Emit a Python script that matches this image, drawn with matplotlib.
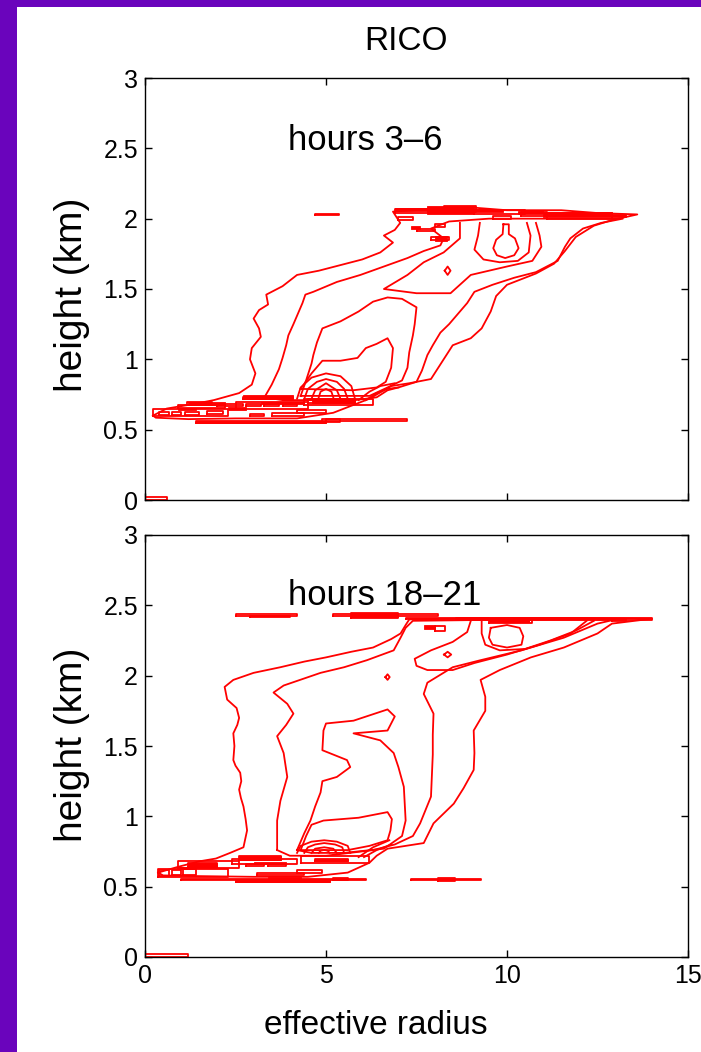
import matplotlib
matplotlib.use('Agg')
from matplotlib.pyplot import figure, rcParams
from matplotlib.patches import Rectangle

rcParams['font.family'] = ['Liberation Sans', 'DejaVu Sans']

# tick values / labels
x_ticks = [0, 5, 10, 15]
x_tick_labels = ['0', '5', '10', '15']
y_ticks = [0, 0.5, 1, 1.5, 2, 2.5, 3]
y_tick_labels = ['0', '0.5', '1', '1.5', '2', '2.5', '3']

panel_titles = ['hours 3\u20136', 'hours 18\u201321']

# ---------------- hours 3-6 : contour lines (effective radius, height km)
top_outer = [(0.22, 0.60), (0.6, 0.65), (1.3, 0.68), (1.9, 0.71), (2.6, 0.76), (2.95, 0.82), (3.05, 0.90),
             (2.9, 1.00), (2.95, 1.08), (3.2, 1.16), (3.15, 1.22), (3.0, 1.29), (3.15, 1.35), (3.4, 1.39),
             (3.35, 1.46), (3.8, 1.52), (4.2, 1.60), (4.8, 1.63), (5.4, 1.67), (6.0, 1.71), (6.5, 1.76),
             (6.85, 1.83), (6.6, 1.88), (6.9, 1.92), (7.05, 1.97), (6.85, 2.05), (8.0, 2.07), (9.0, 2.08),
             (10.0, 2.06), (11.5, 2.06), (12.5, 2.04), (13.6, 2.03), (12.9, 1.99), (12.4, 1.95), (11.9, 1.87),
             (11.6, 1.77), (11.3, 1.68), (10.8, 1.61), (10.0, 1.53), (9.7, 1.45), (9.55, 1.34), (9.3, 1.22),
             (9.0, 1.15), (8.5, 1.10), (8.2, 0.98), (7.9, 0.86), (7.3, 0.83), (6.8, 0.81), (6.2, 0.72),
             (5.2, 0.62), (4.2, 0.58), (2.5, 0.58), (1.2, 0.575), (0.3, 0.585)]
top_b = [(3.3, 0.73), (3.5, 0.82), (3.7, 0.93), (3.8, 1.01), (3.9, 1.10), (3.96, 1.17), (4.1, 1.25), (4.2, 1.31),
         (4.35, 1.40), (4.43, 1.46), (4.65, 1.48), (5.3, 1.55), (5.95, 1.60), (6.6, 1.66), (7.25, 1.72),
         (7.7, 1.77), (8.16, 1.81), (8.25, 1.86), (7.9, 1.93), (8.4, 1.98), (9.5, 2.0), (10.5, 2.0), (12.0, 2.0),
         (13.2, 2.0), (12.6, 1.97), (12.1, 1.93), (11.75, 1.86), (11.6, 1.80), (11.4, 1.70), (10.8, 1.62),
         (10.2, 1.58), (9.6, 1.53), (9.1, 1.48), (8.9, 1.40), (8.7, 1.34), (8.4, 1.25), (8.16, 1.19),
         (7.95, 1.10), (7.8, 1.03), (7.65, 0.92), (7.5, 0.84), (7.0, 0.80), (6.7, 0.78), (6.4, 0.73),
         (5.8, 0.71), (4.8, 0.71), (3.8, 0.71)]
top_c = [(4.3, 0.74), (4.45, 0.85), (4.6, 0.97), (4.65, 1.03), (4.75, 1.12), (4.9, 1.22), (5.4, 1.27), (5.9, 1.34),
         (6.3, 1.41), (6.7, 1.44), (7.1, 1.43), (7.5, 1.37), (7.45, 1.25), (7.4, 1.17), (7.3, 1.05), (7.25, 0.94),
         (7.1, 0.85), (6.7, 0.80), (6.2, 0.74), (5.5, 0.74)]
top_d = [(4.3, 0.79), (4.6, 0.90), (4.9, 0.99), (5.4, 0.99), (5.87, 1.01), (6.1, 1.08), (6.4, 1.11), (6.7, 1.15),
         (6.85, 1.08), (6.8, 0.94), (6.65, 0.84), (6.4, 0.80), (5.75, 0.78)]
top_e = [(8.7, 1.97), (8.7, 1.86), (8.25, 1.76), (7.7, 1.69), (7.25, 1.60), (6.6, 1.50), (7.5, 1.47), (8.44, 1.47),
         (9.0, 1.60), (10.0, 1.66), (10.7, 1.70), (10.95, 1.80), (10.9, 1.88), (10.8, 1.97)]
top_f = [(9.25, 1.97), (9.2, 1.88), (9.1, 1.78), (9.35, 1.71), (9.8, 1.69), (10.3, 1.70), (10.6, 1.76),
         (10.65, 1.88), (10.55, 1.97)]
top_g = [(9.9, 1.96), (9.88, 1.89), (9.7, 1.85), (9.62, 1.79), (9.72, 1.74), (9.95, 1.72), (10.2, 1.74),
         (10.32, 1.79), (10.22, 1.86), (10.05, 1.89), (10.05, 1.96), (9.9, 1.96)]
top_dot = [(8.28, 1.63), (8.36, 1.66), (8.44, 1.63), (8.36, 1.60), (8.28, 1.63)]
top_arcs = [
    [(4.2, 0.72), (4.3, 0.80), (4.6, 0.87), (5.0, 0.90), (5.4, 0.88), (5.7, 0.81), (5.8, 0.72)],
    [(4.4, 0.72), (4.5, 0.79), (4.75, 0.84), (5.0, 0.86), (5.3, 0.84), (5.5, 0.79), (5.6, 0.72)],
    [(4.6, 0.72), (4.7, 0.78), (5.0, 0.83), (5.3, 0.78), (5.4, 0.72)],
    [(4.8, 0.73), (4.85, 0.77), (5.0, 0.79), (5.15, 0.77), (5.2, 0.73)],
]
top_fan = [
    [(5.9, 0.71), (6.2, 0.77), (6.5, 0.81), (6.9, 0.83)],
    [(6.1, 0.71), (6.4, 0.76), (6.7, 0.79), (7.0, 0.80)],
]
top_closed = [top_outer, top_b, top_c, top_d]
top_open = [top_e, top_f, top_g, top_dot] + top_arcs + top_fan

# thin flat loops (r0, r1, h0, h1) around cloud top and cloud base
top_flat = [
    (6.9, 8.3, 2.04, 2.07), (8.25, 9.15, 2.05, 2.09), (7.0, 7.4, 1.99, 2.01), (7.5, 8.0, 1.91, 1.93),
    (7.9, 8.4, 1.85, 1.87), (8.0, 8.3, 1.94, 1.96), (9.1, 10.5, 2.035, 2.065), (9.6, 10.1, 2.00, 2.02),
    (10.4, 11.1, 2.02, 2.05), (11.1, 12.9, 2.00, 2.04), (11.5, 12.3, 2.02, 2.035), (4.7, 5.35, 2.026, 2.034),
    (0.23, 2.3, 0.595, 0.645), (0.4, 0.65, 0.605, 0.625), (0.75, 1.0, 0.605, 0.625), (1.1, 1.5, 0.605, 0.625),
    (1.7, 2.15, 0.61, 0.63), (0.9, 2.2, 0.655, 0.675), (1.15, 1.85, 0.675, 0.695), (2.0, 2.7, 0.665, 0.685),
    (2.7, 4.1, 0.715, 0.735), (2.8, 3.2, 0.665, 0.68), (3.3, 3.7, 0.665, 0.68), (3.8, 4.2, 0.665, 0.68),
    (2.5, 4.5, 0.65, 0.70), (2.9, 3.3, 0.595, 0.61), (3.5, 4.4, 0.60, 0.615), (4.5, 5.8, 0.69, 0.715),
    (4.4, 6.3, 0.675, 0.72), (1.4, 5.0, 0.55, 0.565), (4.9, 5.4, 0.555, 0.575), (5.0, 7.25, 0.565, 0.575),
    (4.2, 5.0, 0.62, 0.64), (0.0, 0.62, 0.0, 0.02),
]
# packed cells where the loops merge into solid red
top_solid = [
    (6.9, 7.9, 2.055, 2.075), (7.8, 9.1, 2.035, 2.09), (9.1, 9.9, 2.05, 2.072), (10.3, 11.0, 2.03, 2.058),
    (11.0, 12.9, 2.012, 2.045), (12.9, 13.3, 2.015, 2.03), (7.35, 7.6, 1.93, 1.95), (8.0, 8.35, 1.84, 1.88),
    (1.2, 2.2, 0.675, 0.70), (2.7, 4.1, 0.72, 0.745), (4.6, 5.8, 0.69, 0.72), (1.4, 5.0, 0.55, 0.565),
    (2.3, 2.8, 0.64, 0.66), (3.2, 4.4, 0.685, 0.70), (0.9, 1.4, 0.64, 0.655),
]

# ---------------- hours 18-21
bot_outer = [(0.36, 0.60), (0.9, 0.64), (1.5, 0.68), (1.96, 0.70), (2.35, 0.74), (2.72, 0.78), (2.82, 0.90),
             (2.78, 0.98), (2.72, 1.07), (2.65, 1.13), (2.6, 1.19), (2.66, 1.25), (2.63, 1.31), (2.5, 1.36),
             (2.44, 1.40), (2.47, 1.50), (2.44, 1.59), (2.55, 1.65), (2.6, 1.70), (2.53, 1.77), (2.27, 1.83),
             (2.2, 1.92), (2.44, 1.97), (3.0, 2.02), (3.74, 2.06), (4.4, 2.10), (5.0, 2.13), (5.7, 2.17),
             (6.3, 2.20), (6.8, 2.26), (7.06, 2.30), (7.2, 2.36), (7.3, 2.40), (8.5, 2.405), (10.0, 2.41),
             (12.0, 2.41), (14.0, 2.405), (12.9, 2.37), (12.5, 2.30), (11.57, 2.20), (10.66, 2.13), (9.8, 2.04),
             (9.27, 1.97), (9.4, 1.85), (9.4, 1.75), (9.08, 1.61), (9.1, 1.45), (9.08, 1.33), (8.8, 1.20),
             (8.53, 1.09), (7.97, 0.95), (7.7, 0.81), (7.2, 0.79), (6.7, 0.77), (6.4, 0.72), (6.2, 0.67),
             (5.6, 0.60), (4.5, 0.57), (3.0, 0.57), (1.5, 0.575), (0.5, 0.58)]
bot_b = [(3.65, 0.76), (3.65, 0.86), (3.65, 0.97), (3.74, 1.11), (3.93, 1.28), (3.83, 1.45), (3.65, 1.57),
         (3.9, 1.65), (4.1, 1.73), (3.93, 1.80), (3.55, 1.88), (3.83, 1.93), (4.85, 2.02), (5.5, 2.06),
         (6.13, 2.11), (6.87, 2.18), (7.06, 2.27), (7.2, 2.34), (7.4, 2.39), (9.0, 2.395), (13.0, 2.40),
         (12.5, 2.37), (11.57, 2.27), (10.4, 2.18), (9.27, 2.11), (8.5, 2.06), (7.8, 1.95), (7.7, 1.87),
         (7.97, 1.73), (7.95, 1.58), (7.95, 1.44), (7.9, 1.14), (7.6, 0.95), (7.4, 0.86), (6.9, 0.80),
         (6.3, 0.76), (5.0, 0.72), (4.0, 0.72)]
bot_c = [(4.2, 0.76), (4.4, 0.88), (4.57, 0.97), (4.7, 1.07), (4.85, 1.17), (4.9, 1.25), (5.3, 1.28), (5.67, 1.35),
         (5.58, 1.40), (4.9, 1.47), (4.93, 1.61), (5.0, 1.66), (5.76, 1.68), (6.7, 1.76), (6.9, 1.71), (6.7, 1.61),
         (5.76, 1.59), (6.5, 1.54), (6.87, 1.45), (7.0, 1.35), (7.15, 1.21), (7.2, 0.97), (7.1, 0.86),
         (6.6, 0.77), (5.5, 0.74), (4.6, 0.74)]
bot_d = [(4.3, 0.76), (4.45, 0.86), (4.6, 0.94), (4.93, 0.97), (5.9, 0.99), (6.7, 1.03), (6.82, 0.98), (6.78, 0.90),
         (6.7, 0.83), (6.2, 0.79), (5.6, 0.76)]
bot_e = [(9.0, 2.39), (8.9, 2.31), (8.5, 2.24), (7.9, 2.18), (7.45, 2.12), (7.5, 2.07), (7.8, 2.04), (8.5, 2.04),
         (9.1, 2.09), (10.0, 2.15), (10.9, 2.22), (11.76, 2.30), (12.2, 2.39)]
bot_f = [(9.3, 2.39), (9.3, 2.30), (9.4, 2.22), (9.8, 2.18), (10.5, 2.19), (11.2, 2.25), (11.9, 2.32), (12.4, 2.39)]
bot_g = [(9.55, 2.34), (9.5, 2.27), (9.6, 2.22), (10.0, 2.20), (10.4, 2.22), (10.45, 2.28), (10.35, 2.34),
         (10.0, 2.36), (9.55, 2.34)]
bot_dots = [
    [(8.26, 2.15), (8.36, 2.17), (8.46, 2.15), (8.36, 2.13), (8.26, 2.15)],
    [(6.64, 1.99), (6.7, 2.01), (6.76, 1.99), (6.7, 1.97), (6.64, 1.99)],
]
bot_arcs = [
    [(4.2, 0.74), (4.3, 0.79), (4.6, 0.82), (4.95, 0.83), (5.3, 0.82), (5.6, 0.79), (5.67, 0.74)],
    [(4.4, 0.74), (4.5, 0.78), (4.7, 0.80), (4.95, 0.81), (5.25, 0.80), (5.45, 0.78), (5.5, 0.74)],
    [(4.6, 0.74), (4.7, 0.77), (4.95, 0.78), (5.2, 0.77), (5.3, 0.74)],
    [(4.8, 0.74), (4.85, 0.755), (4.95, 0.762), (5.05, 0.755), (5.1, 0.74)],
]
bot_fan = [
    [(5.9, 0.71), (6.3, 0.78), (6.75, 0.83)],
    [(6.05, 0.71), (6.4, 0.76), (6.8, 0.80)],
]
bot_closed = [bot_outer, bot_b, bot_c, bot_d]
bot_open = [bot_e, bot_f, bot_g] + bot_dots + bot_arcs + bot_fan

bot_flat = [
    (2.5, 4.2, 2.425, 2.435), (2.9, 4.0, 2.415, 2.425), (5.2, 8.1, 2.425, 2.435), (5.7, 7.0, 2.41, 2.445),
    (7.2, 9.5, 2.40, 2.41), (8.6, 14.0, 2.395, 2.41), (9.5, 10.7, 2.375, 2.395), (10.2, 10.6, 2.38, 2.40),
    (8.0, 8.3, 2.32, 2.35), (12.9, 13.3, 2.39, 2.40),
    (0.36, 2.3, 0.57, 0.625), (0.4, 0.65, 0.575, 0.615), (0.75, 1.0, 0.58, 0.62), (1.05, 1.4, 0.585, 0.625),
    (1.2, 2.0, 0.64, 0.67), (0.9, 2.6, 0.63, 0.68), (2.6, 3.75, 0.69, 0.72), (2.4, 4.2, 0.66, 0.70),
    (2.8, 3.3, 0.645, 0.66), (3.4, 3.9, 0.645, 0.66), (4.7, 5.6, 0.68, 0.70), (4.3, 6.2, 0.665, 0.715),
    (2.5, 5.1, 0.53, 0.545), (1.0, 6.1, 0.545, 0.555), (5.2, 5.6, 0.545, 0.56), (3.1, 4.4, 0.585, 0.60),
    (4.2, 4.9, 0.60, 0.62), (7.34, 9.27, 0.548, 0.552), (8.1, 8.55, 0.54, 0.56), (0.0, 1.2, 0.0, 0.02),
]
bot_solid = [
    (5.7, 7.0, 2.415, 2.445), (9.5, 10.6, 2.38, 2.40), (7.7, 8.0, 2.33, 2.36), (8.6, 9.5, 2.40, 2.41),
    (1.2, 2.0, 0.64, 0.67), (2.6, 3.75, 0.69, 0.72), (4.7, 5.6, 0.68, 0.70), (2.5, 5.1, 0.53, 0.545),
    (3.0, 3.9, 0.66, 0.675), (0.9, 1.3, 0.625, 0.64), (3.4, 4.3, 0.555, 0.57),
]

line_col = '#ff0000'
lw = 1.3


def draw_contours(ax, closed, opened, flats, solids):
    for pts in closed:
        r = [p[0] for p in pts] + [pts[0][0]]
        h = [p[1] for p in pts] + [pts[0][1]]
        ax.plot(r, h, color=line_col, lw=lw)
    for pts in opened:
        ax.plot([p[0] for p in pts], [p[1] for p in pts], color=line_col, lw=lw)
    for r0, r1, h0, h1 in flats:
        ax.plot([r0, r1, r1, r0, r0], [h0, h0, h1, h1, h0], color=line_col, lw=lw)
    for r0, r1, h0, h1 in solids:
        ax.fill([r0, r1, r1, r0], [h0, h0, h1, h1], color=line_col, lw=0.6)


def style_axes(ax, show_x):
    ax.set_xlim(0, 15)
    ax.set_ylim(0, 3)
    ax.set_xticks(x_ticks)
    ax.set_yticks(y_ticks)
    ax.set_yticklabels(y_tick_labels)
    if show_x:
        ax.set_xticklabels(x_tick_labels)
    else:
        ax.set_xticklabels([])
    ax.tick_params(direction='in', length=5, width=1, top=True, right=True, labelsize=18, pad=5)
    for s in ax.spines.values():
        s.set_linewidth(1.0)


fig = figure(figsize=(7.01, 10.52), dpi=100)
fig.patch.set_facecolor('#6a04bc')
# white slide area behind the plots
fig.patches.append(Rectangle((17 / 701, 0), 1, 1 - 7 / 1052, transform=fig.transFigure,
                             facecolor='white', edgecolor='none', zorder=-5))

ax1 = fig.add_axes([145 / 701, 1 - 500 / 1052, 543 / 701, 422 / 1052])
ax2 = fig.add_axes([145 / 701, 1 - 957 / 1052, 543 / 701, 422 / 1052])

draw_contours(ax1, top_closed, top_open, top_flat, top_solid)
draw_contours(ax2, bot_closed, bot_open, bot_flat, bot_solid)
style_axes(ax1, False)
style_axes(ax2, True)

ax1.text(3.96, 2.49, panel_titles[0], fontsize=25, ha='left', va='baseline')
ax2.text(3.96, 2.50, panel_titles[1], fontsize=25, ha='left', va='baseline')

for ax, yc in [(ax1, 0.486), (ax2, 0.502)]:
    ax.set_ylabel('height (km)', fontsize=28)
    ax.yaxis.set_label_coords(-0.101, yc)

ax2.set_xlabel('effective radius', fontsize=24)
ax2.xaxis.set_label_coords(0.425, -0.125)

fig.text(406 / 701, 1 - 42 / 1052, 'RICO', fontsize=24, ha='center', va='center')

fig.savefig('out.png', dpi=100, facecolor=fig.get_facecolor())
